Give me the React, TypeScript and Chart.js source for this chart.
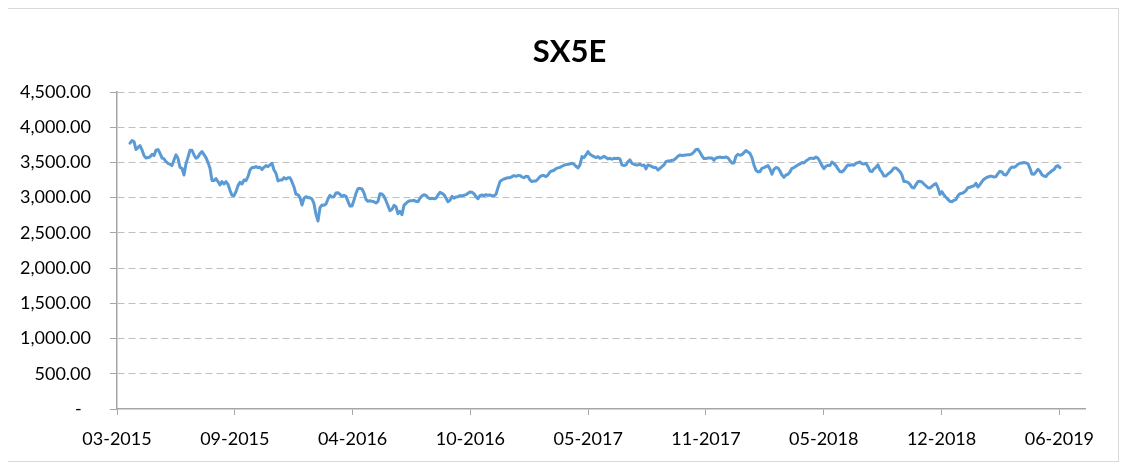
import React, { useEffect, useRef } from 'react';
import { Chart, registerables } from 'chart.js';

Chart.register(...registerables);

// ---- Chart text ----
const chartTitle = 'SX5E';
const xTickLabels = ['03-2015', '09-2015', '04-2016', '10-2016', '05-2017', '11-2017', '05-2018', '12-2018', '06-2019'];

// ---- Axis settings (days counted from the axis start, 21 Mar 2015) ----
const yMin = 0;
const yMax = 4500;
const yStep = 500;
const xTickStepDays = 193;
const xAxisEndDay = 1586;
const firstSampleDay = 21.3;
const sampleStepDays = 3.2766;

// ---- SX5E closing levels, sampled about twice a week ----
const closeApr2015toJan2016 = [
  3773, 3811, 3796, 3683, 3711, 3739, 3678, 3597, 3564, 3569,
  3578, 3616, 3597, 3673, 3683, 3630, 3564, 3550, 3512, 3488,
  3474, 3455, 3536, 3607, 3559, 3431, 3417, 3322, 3483, 3574,
  3673, 3673, 3607, 3559, 3578, 3626, 3654, 3611, 3569, 3498,
  3417, 3242, 3242, 3270, 3228, 3180, 3228, 3194, 3228, 3190,
  3104, 3033, 3028, 3085, 3171, 3218, 3194, 3251, 3242, 3299,
  3393, 3427, 3427, 3441, 3427, 3431, 3398, 3431, 3455, 3441,
  3465, 3488, 3393, 3346, 3237, 3251, 3251, 3284, 3265, 3284,
  3284, 3223, 3152, 3047, 3043, 3000, 2896, 2991, 3014, 3000,
  3000,
];

const closeFeb2016toNov2016 = [
  2981, 2915, 2763, 2668, 2858, 2896, 2891, 2910, 2981, 3033,
  3009, 3014, 3066, 3071, 3047, 3019, 3033, 3019, 2948, 2881,
  2881, 2962, 3062, 3128, 3133, 3123, 3066, 2976, 2948, 2957,
  2948, 2943, 2924, 2948, 3057, 3052, 3019, 2957, 2886, 2815,
  2834, 2891, 2872, 2772, 2806, 2758, 2891, 2919, 2943, 2957,
  2957, 2962, 2948, 2943, 2991, 3024, 3043, 3033, 3000, 2986,
  2991, 2986, 2991, 3038, 3076, 3062, 3043, 2995, 2943, 2962,
  3019, 2991, 3009, 3014, 3028, 3028, 3033, 3043, 3062, 3081,
  3076, 3057, 3014, 2986, 3028, 3038, 3028, 3043, 3033, 3038,
  3028, 3028,
];

const closeDec2016toSep2017 = [
  3047, 3142, 3228, 3251, 3265, 3275, 3284, 3284, 3299, 3313,
  3303, 3313, 3313, 3294, 3284, 3303, 3299, 3251, 3228, 3237,
  3237, 3265, 3299, 3313, 3313, 3299, 3322, 3365, 3379, 3389,
  3412, 3422, 3431, 3446, 3460, 3469, 3474, 3479, 3488, 3474,
  3446, 3422, 3465, 3583, 3569, 3607, 3654, 3616, 3597, 3583,
  3569, 3583, 3559, 3569, 3588, 3569, 3550, 3559, 3545, 3559,
  3555, 3559, 3550, 3465, 3455, 3465, 3512, 3536, 3488, 3474,
  3465, 3465, 3474, 3455, 3465, 3408, 3465, 3455, 3441, 3427,
  3427, 3393, 3417, 3441, 3465, 3512, 3521, 3521, 3531, 3536,
  3559, 3588, 3607,
];

const closeOct2017toJul2018 = [
  3597, 3602, 3607, 3611, 3611, 3621, 3649, 3683, 3687, 3645,
  3593, 3555, 3555, 3564, 3564, 3564, 3531, 3564, 3569, 3578,
  3569, 3569, 3578, 3564, 3526, 3493, 3493, 3588, 3616, 3602,
  3611, 3640, 3668, 3649, 3630, 3569, 3465, 3389, 3365, 3370,
  3417, 3427, 3441, 3455, 3408, 3332, 3403, 3427, 3422, 3379,
  3322, 3289, 3322, 3332, 3365, 3417, 3427, 3446, 3465, 3479,
  3498, 3493, 3521, 3540, 3559, 3559, 3555, 3578, 3559, 3512,
  3455, 3412, 3446, 3460, 3455, 3507, 3483, 3455, 3408, 3370,
  3365, 3389, 3431, 3465, 3460, 3469, 3460, 3488, 3498, 3507,
  3483, 3479,
];

const closeAug2018toJun2019 = [
  3488, 3441, 3379, 3370, 3408, 3431, 3465, 3398, 3360, 3308,
  3308, 3337, 3356, 3384, 3422, 3422, 3398, 3370, 3322, 3228,
  3228, 3218, 3190, 3147, 3137, 3185, 3228, 3232, 3223, 3194,
  3166, 3142, 3137, 3161, 3185, 3199, 3142, 3047, 3085, 3038,
  3005, 2976, 2948, 2943, 2962, 2972, 3028, 3057, 3062, 3076,
  3100, 3142, 3147, 3161, 3166, 3204, 3152, 3185, 3228, 3261,
  3280, 3294, 3303, 3303, 3294, 3299, 3341, 3374, 3365, 3327,
  3322, 3360, 3408, 3436, 3431, 3446, 3474, 3488, 3493, 3498,
  3493, 3483, 3417, 3337, 3332, 3365, 3403, 3374, 3327, 3308,
  3299, 3337, 3356, 3384, 3398, 3441, 3455, 3427,
];

const sx5eValues = [
  ...closeApr2015toJan2016,
  ...closeFeb2016toNov2016,
  ...closeDec2016toSep2017,
  ...closeOct2017toJul2018,
  ...closeAug2018toJun2019,
];

const FONT = 'Lato, "Open Sans", sans-serif';

const formatY = (v: number) =>
  v === 0
    ? '-  '
    : v.toLocaleString('en-US', { minimumFractionDigits: 2, maximumFractionDigits: 2 });

const titlePlugin = {
  id: 'excelTitle',
  afterDraw(chart: any) {
    const { ctx } = chart;
    ctx.save();
    ctx.font = `bold 31px ${FONT}`;
    ctx.fillStyle = '#000000';
    ctx.textAlign = 'center';
    ctx.textBaseline = 'alphabetic';
    ctx.fillText(chartTitle, 561.5, 53);
    ctx.restore();
  },
};

export default function App() {
  const canvasRef = useRef<HTMLCanvasElement>(null);

  useEffect(() => {
    const canvas = canvasRef.current;
    if (!canvas) return;
    const points = sx5eValues.map((v, i) => ({ x: firstSampleDay + i * sampleStepDays, y: v }));

    const chart = new Chart(canvas, {
      type: 'line',
      data: {
        datasets: [
          {
            label: chartTitle,
            data: points,
            borderColor: '#5b9bd5',
            borderWidth: 3,
            pointRadius: 0,
            pointHoverRadius: 0,
            tension: 0,
            fill: false,
            borderJoinStyle: 'round',
            borderCapStyle: 'round',
          },
        ],
      },
      options: {
        animation: false,
        responsive: true,
        maintainAspectRatio: false,
        parsing: false as any,
        layout: { padding: { top: 83, right: 33, left: 0, bottom: 0 } },
        plugins: {
          legend: { display: false },
          title: { display: false },
          tooltip: { enabled: false },
        },
        scales: {
          x: {
            type: 'linear',
            min: 0,
            max: xAxisEndDay,
            afterBuildTicks: (axis: any) => {
              axis.ticks = xTickLabels.map((_, k) => ({ value: k * xTickStepDays }));
            },
            afterFit: (axis: any) => {
              axis.height = 52;
            },
            ticks: {
              autoSkip: false,
              maxRotation: 0,
              minRotation: 0,
              padding: 13,
              color: '#000000',
              font: { family: FONT, size: 18 },
              callback: (_v: any, index: number) => xTickLabels[index],
            },
            grid: {
              display: true,
              drawOnChartArea: false,
              drawTicks: true,
              tickLength: 6,
              tickColor: '#a6a6a6',
              tickWidth: 1,
            },
            border: { display: true, color: '#a6a6a6', width: 1.5 },
          },
          y: {
            type: 'linear',
            min: yMin,
            max: yMax,
            afterFit: (axis: any) => {
              axis.width = 109;
            },
            ticks: {
              stepSize: yStep,
              padding: 19,
              color: '#000000',
              font: { family: FONT, size: 18 },
              callback: (v: any) => formatY(Number(v)),
            },
            grid: {
              display: true,
              drawOnChartArea: true,
              drawTicks: true,
              tickLength: 7,
              lineWidth: 1,
              color: (ctx: any) => (ctx.tick && ctx.tick.value === 0 ? 'rgba(0,0,0,0)' : '#c0c0c0'),
              tickColor: '#a6a6a6',
              tickWidth: 1,
            },
            border: { display: true, color: '#a6a6a6', width: 1.5, dash: [7, 4] },
          },
        },
      },
      plugins: [titlePlugin],
    });

    if ((document as any).fonts && (document as any).fonts.ready) {
      (document as any).fonts.ready.then(() => {
        try {
          chart.update();
        } catch (e) {
          /* chart destroyed */
        }
      });
    }

    return () => chart.destroy();
  }, []);

  return (
    <div
      style={{
        width: 1112,
        height: 454,
        border: '1px solid #d9d9d9',
        boxSizing: 'border-box',
        marginLeft: -1,
        position: 'relative',
        background: '#ffffff',
      }}
    >
      <canvas ref={canvasRef} />
    </div>
  );
}
